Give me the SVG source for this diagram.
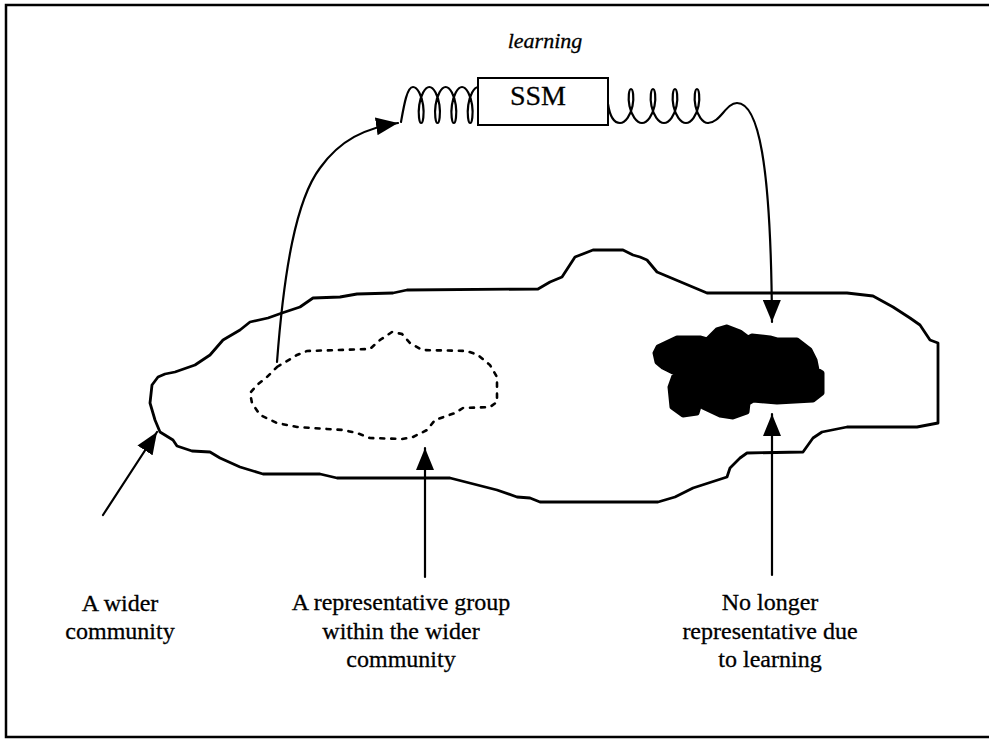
<svg xmlns="http://www.w3.org/2000/svg" width="989" height="740" viewBox="0 0 989 740">
  <style>
    .ln{fill:none;stroke:#000;stroke-width:2.2;stroke-linejoin:round;stroke-linecap:round}
    .edge{fill:none;stroke:#000;stroke-width:2.8;stroke-linejoin:round}
    .dots{fill:none;stroke:#000;stroke-width:2.6;stroke-dasharray:4 7;stroke-linecap:round}
    .t{font-family:"Liberation Serif","Times New Roman",serif;font-size:24px;fill:#000;stroke:#000;stroke-width:0.3;text-anchor:middle}
  </style>
  <defs>
    <marker id="ah" markerWidth="22" markerHeight="18" refX="22" refY="9" orient="auto" markerUnits="userSpaceOnUse">
      <path d="M0,0 L22,9 L0,18 z" fill="#000"/>
    </marker>
  </defs>
  <rect width="989" height="740" fill="#fff"/>

  <!-- page frame -->
  <path id="frame" d="M992,5 H6 V737 H992" fill="none" stroke="#000" stroke-width="2.5"/>

  <!-- the wider community outline -->
  <g id="community">
    <path class="edge" d="M150,403 L152,385 L158,377 L165,374 L175,372 L195,365 L210,355 L223,340 L240,330 L250,322 L268,318 L282,313 L300,307 L313,298 L340,297 L357,294 L393,293 L407,290 L538,289 L550,282 L562,277 L575,257 L593,250 L623,250 L633,255 L640,257 L647,260 L657,272 L707,293 L847,293 L873,296 L893,307 L910,318 L920,325 L930,340 L938,343 L938,423 L917,427 L847,427 L822,432 L813,438 L803,452 L747,453 L740,458 L730,468 L727,477 L693,488 L675,497 L658,502 L540,502 L530,498 L517,497 L497,490 L450,478 L337,478 L320,474 L263,474 L240,467 L220,458 L210,452 L192,451 L177,446 L173,440 L160,432 L155,420 Z"/>
  </g>

  <!-- representative group (dotted) -->
  <g id="group">
    <path class="dots" d="M277,367 L297,355 L307,351 L370,349 L380,340 L392,332 L402,334 L410,343 L422,350 L467,351 L478,355 L490,365 L497,377 L497,402 L490,407 L463,408 L455,413 L435,420 L427,430 L413,437 L402,439 L370,438 L357,433 L343,430 L297,427 L277,423 L260,415 L252,403 L250,393 L257,385 L267,377 Z"/>
  </g>

  <!-- group changed by learning (solid) -->
  <g id="learned">
    <path d="M658,347 L677,338 L700,338 L707,340 L717,330 L727,327 L740,332 L748,338 L752,336 L770,338 L777,340 L797,340 L810,350 L815,360 L817,370 L822,373 L822,393 L813,400 L777,402 L753,400 L748,403 L747,412 L733,417 L720,415 L703,407 L700,403 L697,413 L683,415 L672,407 L670,387 L675,373 L663,367 L657,362 L655,353 Z" fill="#000" stroke="#000" stroke-width="5" stroke-linejoin="round"/>
  </g>

  <!-- SSM with its two springs -->
  <g id="ssm">
    <path class="ln" d="M401,122 C404,105 407,87 413,87
      c4.503,0 8.723,8.575 10.084,18 c1.361,9.425 -0.136,18 -1.916,18 c-1.780,0 -3.277,-8.575 -1.916,-18 c1.361,-9.425 5.581,-18 10.084,-18
      c4.503,0 8.723,8.575 10.084,18 c1.361,9.425 -0.136,18 -1.916,18 c-1.780,0 -3.277,-8.575 -1.916,-18 c1.361,-9.425 5.581,-18 10.084,-18
      c4.503,0 8.723,8.575 10.084,18 c1.361,9.425 -0.136,18 -1.916,18 c-1.780,0 -3.277,-8.575 -1.916,-18 c1.361,-9.425 5.581,-18 10.084,-18
      c4.503,0 8.723,8.575 10.084,18 c1.361,9.425 -0.136,18 -1.916,18 c-1.780,0 -3.277,-8.575 -1.916,-18 c1.361,-9.425 5.581,-18 10.084,-18
      c4.503,0 8.723,8.575 10.084,18"/>
    <path class="ln" d="M608,104 C610,117 614,123 620,123
      c5.498,0 10.665,-8.099 12.498,-17 c1.833,-8.901 0.331,-17 -1.502,-17 c-1.833,0 -3.335,8.099 -1.502,17 c1.833,8.901 7,17 12.498,17
      c5.498,0 10.665,-8.099 12.498,-17 c1.833,-8.901 0.331,-17 -1.502,-17 c-1.833,0 -3.335,8.099 -1.502,17 c1.833,8.901 7,17 12.498,17
      c5.498,0 10.665,-8.099 12.498,-17 c1.833,-8.901 0.331,-17 -1.502,-17 c-1.833,0 -3.335,8.099 -1.502,17 c1.833,8.901 7,17 12.498,17
      c5.498,0 10.665,-8.099 12.498,-17 c1.833,-8.901 0.331,-17 -1.502,-17 c-1.833,0 -3.335,8.099 -1.502,17 c1.833,8.901 7,17 12.498,17"/>
    <rect x="478" y="78" width="130" height="47" fill="#fff" stroke="#000" stroke-width="2"/>
    <text class="t" x="538" y="105" style="font-size:28px">SSM</text>
    <text class="t" x="545" y="48" font-style="italic" style="font-size:22px">learning</text>
  </g>

  <!-- connectors -->
  <g id="connectors" class="ln">
    <path d="M277,362 C284,270 296,200 320,168 C340,140 365,128 398,123" marker-end="url(#ah)"/>
    <path d="M708,123 C720,123 726,103 737,103 C758,103 771,160 772,322" marker-end="url(#ah)"/>
    <path d="M103,515 L157,432" marker-end="url(#ah)"/>
    <path d="M425,577 L425,448" marker-end="url(#ah)"/>
    <path d="M772,575 L772,414" marker-end="url(#ah)"/>
  </g>

  <!-- labels -->
  <g id="labels">
    <text class="t" x="120" y="611">A wider</text>
    <text class="t" x="120" y="639">community</text>
    <text class="t" x="401" y="610">A representative group</text>
    <text class="t" x="401" y="639">within the wider</text>
    <text class="t" x="401" y="667">community</text>
    <text class="t" x="770" y="610">No longer</text>
    <text class="t" x="770" y="639">representative due</text>
    <text class="t" x="770" y="667">to learning</text>
  </g>
</svg>
